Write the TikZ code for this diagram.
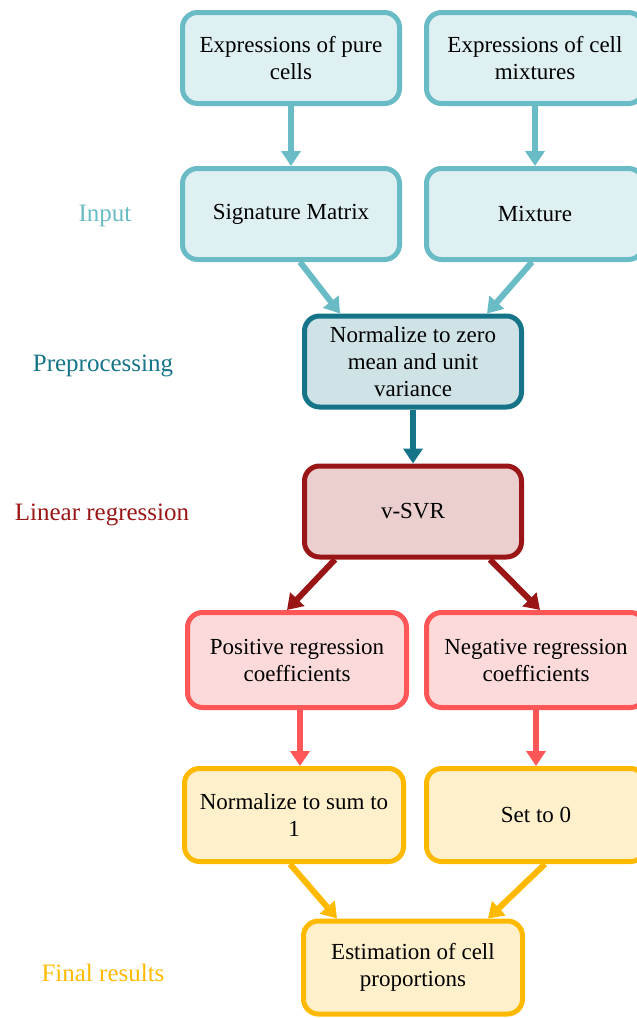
\documentclass[tikz,border=0pt]{standalone}
\usepackage{fontspec}
\setmainfont{Liberation Serif}
\usepackage{tikz}
\usetikzlibrary{arrows.meta, calc}
\definecolor{inline}{HTML}{69BCC6}
\definecolor{infill}{HTML}{DFF0F3}
\definecolor{prepline}{HTML}{157487}
\definecolor{prepfill}{HTML}{CFE2E6}
\definecolor{svrline}{HTML}{9A1616}
\definecolor{svrfill}{HTML}{EBCFCF}
\definecolor{coefline}{HTML}{FF5757}
\definecolor{coeffill}{HTML}{FDDADA}
\definecolor{resline}{HTML}{FFBA00}
\definecolor{resfill}{HTML}{FFF0CC}
\tikzset{
    %Define style for boxes
    box/.style={
           rectangle,
           rounded corners=15pt,
           line width=5pt,
           text width=196pt,
           minimum width=217pt,
           minimum height=91pt,
           align=flush center,
           font=\fontsize{23}{27}\selectfont},
 %
  inbox/.style={box, draw=inline, fill=infill},
  prepbox/.style={box, draw=prepline, fill=prepfill},
  svrbox/.style={box, draw=svrline, fill=svrfill},
  coefbox/.style={box, draw=coefline, fill=coeffill, minimum width=219pt, minimum height=95pt},
  resbox/.style={box, draw=resline, fill=resfill, minimum width=219pt, minimum height=93pt},
%
    % Define label and arrow styles
    steplabel/.style={font=\fontsize{25}{29}\selectfont},
    arrow/.style={
           -{Triangle[width=19pt,length=15pt]},
           line width=6pt}
}
\begin{document}
\begin{tikzpicture}[x=1pt,y=1pt]
  \useasboundingbox (0,0) rectangle (637,-1018);

  % boxes
  \node[inbox] (pure) at (291,-58) {Expressions of pure cells};
  \node[inbox] (cellmix) at (535,-58) {Expressions of cell mixtures};
  \node[inbox] (sig) at (291,-214) {Signature Matrix};
  \node[inbox] (mix) at (535,-214) {Mixture};
  \node[prepbox] (norm) at (413,-361.5) {Normalize to zero mean and unit variance};
  \node[svrbox] (svr) at (413,-511.5) {v-SVR};
  \node[coefbox] (pos) at (297,-660) {Positive regression coefficients};
  \node[coefbox] (neg) at (536,-660) {Negative regression coefficients};
  \node[resbox] (sumone) at (294,-815) {Normalize to sum to 1};
  \node[resbox] (zero) at (536,-815) {Set to 0};
  \node[resbox] (est) at (413,-967.5) {Estimation of cell proportions};

  % labels
  \node[steplabel, text=inline] (linput) at (105,-216) {Input};
  \node[steplabel, text=prepline] (lprep) at (103,-366) {Preprocessing};
  \node[steplabel, text=svrline] (lreg) at (102,-515) {Linear regression};
  \node[steplabel, text=resline] (lres) at (103,-973) {Final results};

  % arrows
  \draw[arrow, inline] (pure) -- (sig);
  \draw[arrow, inline] (cellmix) -- (mix);
  \draw[arrow, inline] ($(sig.south)+(9,0)$) -- ($(norm.north)+(-73,0)$);
  \draw[arrow, inline] ($(mix.south)+(-3,0)$) -- ($(norm.north)+(74,0)$);
  \draw[arrow, prepline] (norm) -- (svr);
  \draw[arrow, svrline] ($(svr.south)+(-78,0)$) -- ($(pos.north)+(-10,0)$);
  \draw[arrow, svrline] ($(svr.south)+(77,0)$) -- ($(neg.north)+(4,0)$);
  \draw[arrow, coefline] ($(pos.south)+(3,0)$) -- ($(sumone.north)+(6,0)$);
  \draw[arrow, coefline] (neg) -- (zero);
  \draw[arrow, resline] ($(sumone.south)+(-4,0)$) -- ($(est.north)+(-76,0)$);
  \draw[arrow, resline] ($(zero.south)+(9,0)$) -- ($(est.north)+(75,0)$);
\end{tikzpicture}
\end{document}
